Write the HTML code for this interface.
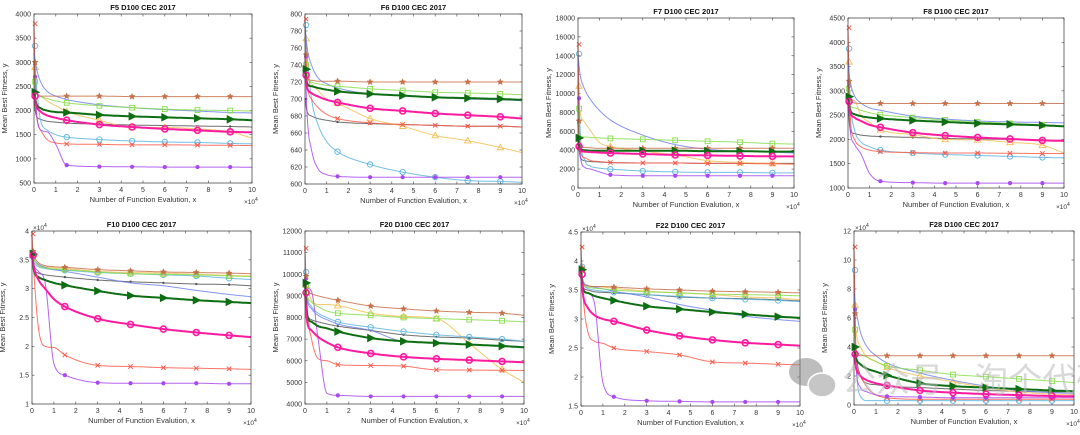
<!DOCTYPE html>
<html><head><meta charset="utf-8"><style>
body{margin:0;background:#fff;}
svg text{font-family:"Liberation Sans","Noto Sans CJK SC",sans-serif;}
</style></head><body>
<svg id="fig" width="1080" height="430" viewBox="0 0 1080 430" xmlns="http://www.w3.org/2000/svg"></svg>
<script>
// x sample points (×10^4 function evaluations)
const xSamples=[0,0.1,0.3,0.6,1,1.5,3,4.5,6,7.5,9,10];
const markerX=[1.5,3,4.5,6,7.5,9];
const seriesNames=["star","square","blue","triangle","pink","grey","orange","cyan","red","purple"];
const titles=["F5 D100 CEC 2017","F6 D100 CEC 2017","F7 D100 CEC 2017","F8 D100 CEC 2017","F10 D100 CEC 2017","F20 D100 CEC 2017","F22 D100 CEC 2017","F28 D100 CEC 2017"];
const yTicksF5=[500,1000,1500,2000,2500,3000,3500,4000];
const yTicksF6=[600,620,640,660,680,700,720,740,760,780,800];
const yTicksF7=[0,2000,4000,6000,8000,10000,12000,14000,16000,18000];
const yTicksF8=[1000,1500,2000,2500,3000,3500,4000,4500];
const yTicksF10=[1,1.5,2,2.5,3,3.5,4];
const yTicksF20=[4000,5000,6000,7000,8000,9000,10000,11000,12000];
const yTicksF22=[1.5,2,2.5,3,3.5,4,4.5];
const yTicksF28=[0,2,4,6,8,10,12];
const xTicks=[0,1,2,3,4,5,6,7,8,9,10];
const F5=[[3000,2400,2300,2300,2300,2300,2300,2290,2290,2290,2290,2290],[2600,2400,2300,2250,2200,2160,2100,2060,2030,2010,2000,1990],[3200,2900,2600,2400,2300,2230,2120,2060,2020,1990,1960,1950],[2380,2150,2050,2000,1970,1960,1910,1880,1860,1840,1820,1800],[2300,2100,1980,1900,1850,1800,1710,1660,1620,1590,1560,1550],[2200,1900,1820,1780,1760,1740,1720,1700,1690,1680,1670,1660],[2900,2400,2300,2200,2100,1980,1800,1650,1650,1620,1560,1430],[3340,2600,1800,1600,1500,1450,1400,1370,1350,1340,1320,1310],[3800,2000,1600,1400,1330,1310,1300,1290,1290,1285,1280,1275],[2700,2000,1600,1560,1300,870,840,835,830,830,830,825]];
const F6=[[752,725,722,721,721,721,720,720,720,720,720,720],[740,725,720,718,716,715,712,710,708,707,706,705],[787,760,740,725,718,713,706,704,702,700,699,698],[735,718,715,713,711,709,706,704,702,701,700,699],[728,713,707,703,699,696,689,686,683,681,679,677],[700,685,680,677,675,673,671,670,669,668,668,667],[771,730,718,710,700,695,677,668,657,651,643,637],[787,750,700,670,650,638,623,614,608,604,603,602],[794,720,700,690,682,677,672,670,669,668,668,667],[750,680,640,618,611,609,608,608,608,608,608,608]];
const F7=[[7100,4400,4300,4250,4200,4200,4200,4200,4200,4200,4200,4200],[8400,5500,5400,5350,5300,5250,5150,5050,4950,4850,4700,4650],[14000,12000,10500,9300,8200,7200,5600,4600,4100,3900,3800,3700],[5300,4100,4000,3950,3950,3950,3950,3950,3900,3900,3850,3850],[4400,3950,3850,3800,3750,3700,3600,3500,3450,3400,3350,3350],[5200,3300,2900,2800,2750,2700,2650,2650,2600,2600,2600,2600],[10800,8000,7000,6000,4800,4400,3900,3500,2900,2700,2600,2500],[14200,6000,3000,2300,2100,2000,1800,1700,1650,1650,1600,1600],[15200,4000,3200,2900,2800,2700,2650,2650,2600,2600,2550,2550],[9500,3500,2200,2000,1700,1400,1300,1300,1300,1300,1300,1300]];
const F8=[[3200,2800,2750,2740,2740,2740,2740,2740,2740,2740,2740,2740],[3050,2700,2650,2600,2550,2510,2450,2400,2360,2330,2300,2280],[3600,3200,2900,2750,2650,2600,2480,2420,2380,2360,2350,2340],[2880,2600,2520,2480,2450,2430,2390,2360,2330,2310,2290,2270],[2780,2550,2450,2380,2300,2250,2140,2080,2040,2010,1980,1970],[2700,2200,2120,2090,2070,2060,2040,2020,2010,2000,1990,1980],[3600,2900,2800,2500,2350,2200,2100,2000,1990,1940,1880,1720],[3870,2800,2200,1950,1850,1780,1720,1690,1670,1650,1630,1620],[4300,2500,2000,1850,1780,1750,1730,1720,1720,1715,1710,1710],[3100,2200,1900,1700,1300,1140,1110,1100,1100,1100,1100,1100]];
const F10=[[3.65,3.55,3.45,3.4,3.38,3.37,3.33,3.31,3.29,3.28,3.27,3.26],[3.62,3.5,3.4,3.36,3.34,3.33,3.29,3.26,3.25,3.24,3.22,3.21],[3.6,3.5,3.42,3.37,3.33,3.3,3.2,3.1,3.05,2.97,2.9,2.86],[3.6,3.3,3.2,3.15,3.1,3.06,2.96,2.88,2.84,2.8,2.77,2.75],[3.58,3.35,3.15,3.0,2.82,2.69,2.48,2.38,2.3,2.24,2.19,2.16],[3.6,3.35,3.27,3.24,3.22,3.2,3.15,3.12,3.1,3.08,3.07,3.05],[3.6,3.5,3.42,3.38,3.36,3.35,3.3,3.28,3.27,3.25,3.23,3.22],[3.55,3.45,3.38,3.35,3.33,3.32,3.28,3.26,3.24,3.22,3.18,3.16],[3.95,3.2,2.3,2.0,1.98,1.85,1.67,1.65,1.63,1.62,1.61,1.6],[3.6,3.4,3.3,3.1,1.7,1.5,1.37,1.36,1.36,1.36,1.35,1.35]];
const F20=[[9900,9300,9100,9000,8900,8800,8530,8400,8300,8240,8200,8100],[9500,9000,8700,8500,8300,8200,8100,8000,7950,7900,7850,7800],[9600,8800,8400,8100,7900,7700,7400,6900,6850,6750,6700,6650],[9600,8100,7800,7600,7500,7350,7050,6900,6820,6750,6680,6620],[9150,7800,7400,7100,6850,6620,6340,6180,6090,6030,5970,5930],[9300,8200,7900,7800,7700,7600,7400,7200,7100,7050,6950,6900],[9500,9300,8800,8600,8600,8550,8200,8050,7950,6800,5600,5000],[10100,9000,8500,8200,8000,7800,7550,7350,7200,7100,7000,6900],[11200,8500,7000,6100,6000,5820,5780,5750,5580,5570,5560,5550],[9800,9400,9200,7000,4500,4400,4350,4350,4350,4350,4350,4350]];
const F22=[[3.88,3.62,3.57,3.56,3.56,3.55,3.52,3.5,3.48,3.47,3.46,3.45],[3.85,3.6,3.55,3.53,3.52,3.5,3.47,3.45,3.43,3.42,3.41,3.4],[3.85,3.65,3.58,3.55,3.52,3.48,3.38,3.25,3.15,3.05,2.99,2.96],[3.85,3.5,3.45,3.4,3.36,3.32,3.22,3.17,3.12,3.08,3.04,3.02],[3.77,3.4,3.2,3.07,3.0,2.96,2.81,2.71,2.64,2.59,2.56,2.54],[3.9,3.55,3.5,3.47,3.46,3.45,3.42,3.38,3.36,3.35,3.33,3.31],[3.85,3.65,3.58,3.56,3.55,3.53,3.48,3.45,3.42,3.38,3.36,3.33],[3.9,3.62,3.53,3.5,3.48,3.46,3.42,3.39,3.36,3.34,3.32,3.3],[4.24,3.4,2.8,2.62,2.58,2.5,2.44,2.38,2.26,2.24,2.22,2.21],[3.85,3.55,3.45,3.3,1.9,1.66,1.59,1.58,1.57,1.57,1.57,1.57]];
const F28=[[6.3,3.8,3.4,3.4,3.4,3.4,3.4,3.4,3.4,3.4,3.4,3.4],[5.2,3.8,3.5,3.3,3.0,2.7,2.4,2.1,1.95,1.8,1.65,1.55],[7.8,6.5,5.0,4.0,3.4,2.9,2.2,1.7,1.3,1.0,0.85,0.8],[4.0,3.2,2.8,2.5,2.3,2.05,1.5,1.3,1.2,1.1,1.0,0.95],[3.5,2.5,2.0,1.7,1.5,1.35,1.0,0.85,0.75,0.68,0.62,0.6],[6.0,3.5,2.0,1.5,1.4,1.3,1.2,1.1,1.0,0.95,0.9,0.9],[6.9,5.0,4.0,3.3,3.0,2.6,2.0,1.6,1.2,0.9,0.75,0.7],[9.3,3.0,0.6,0.3,0.3,0.3,0.3,0.3,0.3,0.3,0.3,0.3],[10.9,3.5,2.0,1.2,0.7,0.5,0.4,0.4,0.4,0.4,0.4,0.4],[6.6,2.5,1.2,0.9,0.7,0.6,0.55,0.5,0.5,0.5,0.5,0.5]];

const NS="http://www.w3.org/2000/svg";
const svg=document.getElementById('fig');
const colors=["#c8704a","#86de4a","#7080f0","#0d6e12","#ff1aa0","#555555","#f5bf55","#5ab4e0","#ff5a4a","#a848f0"];
const widths=[1,1,1,2,2,1,1,1,1,1];
const markers=["star","square","none","tri","diamond","dot","triup","circle","x","ast"];
const panels=[
 {d:F5,t:yTicksF5,x0:34,x1:252,yt:14,yb:183,exp:false},
 {d:F6,t:yTicksF6,x0:305,x1:522,yt:14,yb:184,exp:false},
 {d:F7,t:yTicksF7,x0:578,x1:794,yt:18,yb:188,exp:false},
 {d:F8,t:yTicksF8,x0:848,x1:1064,yt:18,yb:188,exp:false},
 {d:F10,t:yTicksF10,x0:32,x1:251,yt:231,yb:404,exp:true},
 {d:F20,t:yTicksF20,x0:305,x1:524,yt:231,yb:404,exp:false},
 {d:F22,t:yTicksF22,x0:581,x1:800,yt:232,yb:406,exp:true},
 {d:F28,t:yTicksF28,x0:854,x1:1074,yt:231,yb:405,exp:true}
];
function mk(tag,attrs,parent){const e=document.createElementNS(NS,tag);for(const k in attrs)e.setAttribute(k,attrs[k]);(parent||svg).appendChild(e);return e;}
// monotone cubic interpolation (Fritsch-Carlson)
function slopes(arr){
 const n=arr.length,d=[],m=[];
 for(let i=0;i<n-1;i++)d.push((arr[i+1]-arr[i])/(xSamples[i+1]-xSamples[i]));
 m.push(d[0]);
 for(let i=1;i<n-1;i++){m.push(d[i-1]*d[i]<=0?0:(d[i-1]+d[i])/2);}
 m.push(d[n-2]);
 for(let i=0;i<n-1;i++){if(d[i]===0){m[i]=0;m[i+1]=0;continue;}const a=m[i]/d[i],b=m[i+1]/d[i];const s=a*a+b*b;if(s>9){const t=3/Math.sqrt(s);m[i]=t*a*d[i];m[i+1]=t*b*d[i];}}
 return m;
}
function interp(arr,x,m){
 for(let i=0;i<xSamples.length-1;i++){
  if(x<=xSamples[i+1]){const h=xSamples[i+1]-xSamples[i];const t=(x-xSamples[i])/h;const t2=t*t,t3=t2*t;
   return (2*t3-3*t2+1)*arr[i]+(t3-2*t2+t)*h*m[i]+(-2*t3+3*t2)*arr[i+1]+(t3-t2)*h*m[i+1];}
 }
 return arr[arr.length-1];
}
function drawMarker(g,type,cx,cy,c){
 const s=2.4;
 if(type==="square"){const m=mk('rect',{x:cx-s,y:cy-s,width:2*s,height:2*s,fill:'none',stroke:c,'stroke-width':0.9},g);}
 else if(type==="circle"){const m=mk('circle',{cx:cx,cy:cy,r:2.7,fill:'none',stroke:c,'stroke-width':0.9},g);}
 else if(type==="diamond"){const m=mk('circle',{cx:cx,cy:cy,r:3,fill:'none',stroke:c,'stroke-width':1.6},g);}
 else if(type==="tri"){const m=mk('polygon',{points:`${cx-3},${cy-3.5} ${cx+4},${cy} ${cx-3},${cy+3.5}`,fill:c,stroke:c},g);}
 else if(type==="triup"){const m=mk('polygon',{points:`${cx},${cy-3.2} ${cx+3.2},${cy+2.3} ${cx-3.2},${cy+2.3}`,fill:'none',stroke:c,'stroke-width':0.9},g);}
 else if(type==="dot"){const m=mk('circle',{cx:cx,cy:cy,r:1.2,fill:c},g);}
 else if(type==="x"){const m=mk('path',{d:`M${cx-2.2},${cy-2.2}L${cx+2.2},${cy+2.2}M${cx+2.2},${cy-2.2}L${cx-2.2},${cy+2.2}`,stroke:c,'stroke-width':1},g);}
 else if(type==="ast"){const m=mk('circle',{cx:cx,cy:cy,r:2.1,fill:c},g);}
 else if(type==="star"){let p=[];for(let i=0;i<10;i++){const r=i%2?1.4:3.2;const a=-Math.PI/2+i*Math.PI/5;p.push((cx+r*Math.cos(a)).toFixed(1)+','+(cy+r*Math.sin(a)).toFixed(1));}const m=mk('polygon',{points:p.join(' '),fill:c,stroke:c,'stroke-width':0.5},g);}
}
panels.forEach((P,pi)=>{
 const g=mk('g',{});
 
 
 const ymin=P.t[0],ymax=P.t[P.t.length-1];
 const X=v=>P.x0+(v-0)/(10)*(P.x1-P.x0);
 const Y=v=>P.yb-(v-ymin)/(ymax-ymin)*(P.yb-P.yt);
 const bg=mk('rect',{x:P.x0,y:P.yt,width:P.x1-P.x0,height:P.yb-P.yt,fill:'#fff'},g);
 
 const tl=mk('text',{x:(P.x0+P.x1)/2,y:P.yt-4,'font-size':7.5,'font-weight':'bold','text-anchor':'middle',fill:'#111'},g);
 tl.textContent=titles[pi];
 P.t.forEach(v=>{
  const y=Y(v);
  mk('line',{x1:P.x0,x2:P.x0+2.5,y1:y,y2:y,stroke:'#444','stroke-width':0.6},g);
  mk('line',{x1:P.x1,x2:P.x1-2.5,y1:y,y2:y,stroke:'#444','stroke-width':0.6},g);
  const tx=mk('text',{x:P.x0-3,y:y+2.5,'font-size':7,'text-anchor':'end',fill:'#333'},g);
  tx.textContent=String(v);
 });
 xTicks.forEach(v=>{
  const x=X(v);
  mk('line',{x1:x,x2:x,y1:P.yb,y2:P.yb-2.5,stroke:'#444','stroke-width':0.6},g);
  mk('line',{x1:x,x2:x,y1:P.yt,y2:P.yt+2.5,stroke:'#444','stroke-width':0.6},g);
  const tx=mk('text',{x:x,y:P.yb+9,'font-size':7,'text-anchor':'middle',fill:'#333'},g);
  tx.textContent=String(v);
 });
 const xe=mk('text',{x:P.x1-8,y:P.yb+21,'font-size':6.5,fill:'#333'},g);
 xe.innerHTML='×10<tspan font-size="5" dy="-3">4</tspan>';
 if(P.exp){const ye=mk('text',{x:P.x0+1,y:P.yt-1,'font-size':6.5,fill:'#333'},g);ye.innerHTML='×10<tspan font-size="5" dy="-3">4</tspan>';}
 const xl=mk('text',{x:(P.x0+P.x1)/2,y:P.yb+19,'font-size':7.5,'text-anchor':'middle',fill:'#333'},g);
 xl.textContent='Number of Function Evalution, x';
 const ylx=P.x0-27,yly=(P.yt+P.yb)/2;
 const yl=mk('text',{x:ylx,y:yly,'font-size':7.5,'text-anchor':'middle',fill:'#333',transform:`rotate(-90 ${ylx} ${yly})`},g);
 yl.textContent='Mean Best Fitness, y';
 const order=[5,6,7,8,9,2,1,0,3,4];
 order.forEach(si=>{
  const arr=P.d[si];const c=colors[si];const m=slopes(arr);
  const sg=mk('g',{},g);
  
  const pts=[];
  for(let k=0;k<=400;k++){const xv=k/40;let yv=interp(arr,xv,m);yv=Math.max(ymin,Math.min(ymax,yv));pts.push(X(xv).toFixed(1)+','+Y(yv).toFixed(1));}
  const pl=mk('polyline',{points:pts.join(' '),fill:'none',stroke:c,'stroke-width':widths[si],'stroke-opacity':widths[si]>1?1:0.85},sg);
  
  if(markers[si]!=="none"){
   drawMarker(sg,markers[si],X(0.05),Y(Math.min(ymax,interp(arr,0,m))),c);
   markerX.forEach(mx=>drawMarker(sg,markers[si],X(mx),Y(interp(arr,mx,m)),c));
  }
 });
 const fr=mk('rect',{x:P.x0,y:P.yt,width:P.x1-P.x0,height:P.yb-P.yt,fill:'none',stroke:'#333','stroke-width':0.7},g);
 
});
const wm=mk('g',{opacity:0.55});

mk('ellipse',{cx:806,cy:372,rx:17,ry:14,fill:'#888'},wm);
mk('ellipse',{cx:822,cy:385,rx:14,ry:12,fill:'#999',stroke:'#fff','stroke-width':1.5},wm);
const wt=mk('text',{x:842,y:392,'font-size':34,fill:'#bbb','font-family':'"Noto Sans CJK SC",sans-serif'},wm);
wt.textContent='公众号 · 淘个代码';


</script>
</body></html>
